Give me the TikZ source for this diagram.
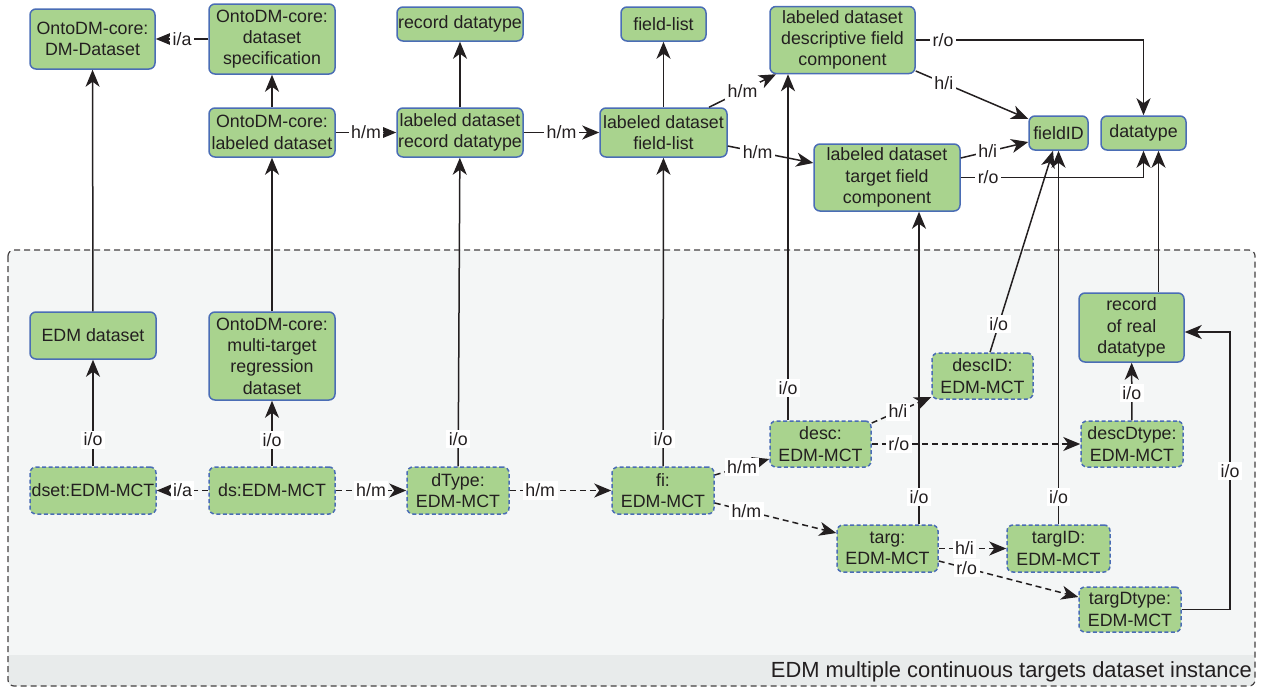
\documentclass[tikz,border=0pt]{standalone}
\usepackage{fontspec}
\setmainfont{Liberation Sans}
\usetikzlibrary{arrows.meta}
\definecolor{bgreen}{HTML}{A9D38E}
\definecolor{bblue}{HTML}{4A6DB5}
\definecolor{ink}{HTML}{231F20}
\definecolor{panel}{HTML}{F4F6F6}
\definecolor{band}{HTML}{E8EBEB}
\newcommand{\fs}{\fontsize{17.8}{21.3}\selectfont}
\begin{document}
\begin{tikzpicture}[x=1pt,y=-1pt,
 box/.style={draw=bblue, fill=bgreen, rounded corners=6pt, line width=1.5pt, align=center, inner sep=0pt, font=\fs, text=ink},
 dbox/.style={box, dash pattern=on 4pt off 2.5pt},
 lbl/.style={fill=white, inner sep=2.5pt, font=\fs, text=ink},
 arr/.style={-{Stealth[length=17pt,width=14pt,inset=5pt]}, line width=1.5pt, draw=ink},
 darr/.style={arr, dash pattern=on 6pt off 4pt},
]
\useasboundingbox (0,0) rectangle (1265,688);
% container
\fill[panel, rounded corners=6pt] (8,250) rectangle (1255,686);
\fill[band, rounded corners=6pt] (8,655) rectangle (1255,686);
\fill[band] (8.7,655) rectangle (1254.3,668);
\draw[ink!85, line width=1.2pt, dash pattern=on 6pt off 4pt, rounded corners=6pt] (8,250) rectangle (1255,686);
\node[anchor=east, inner sep=0pt, text=ink, font=\fontsize{21.9}{24}\selectfont] (title) at (1252,672) {EDM multiple continuous targets dataset instance};

% top nodes
\node[box, minimum width=125pt, minimum height=60pt] (DMD) at (92.5,39) {OntoDM-core:\\DM-Dataset};
\node[box, minimum width=126pt, minimum height=70pt] (dsspec) at (272,39) {OntoDM-core:\\dataset\\specification};
\node[box, minimum width=126pt, minimum height=34pt] (recdt) at (460,24) {record datatype};
\node[box, minimum width=85pt, minimum height=34pt] (fieldlist) at (663.5,24) {field-list};
\node[box, minimum width=145pt, minimum height=67pt] (ldesc) at (842.5,40) {labeled dataset\\descriptive field\\component};
\node[box, minimum width=126pt, minimum height=49pt] (ldlab) at (272,132.5) {OntoDM-core:\\labeled dataset};
\node[box, minimum width=126pt, minimum height=49pt] (ldrec) at (460,132.5) {labeled dataset\\record datatype};
\node[box, minimum width=127pt, minimum height=49pt] (ldfl) at (663.5,132.5) {labeled dataset\\field-list};
\node[box, minimum width=59pt, minimum height=34pt] (fieldID) at (1058.5,133) {fieldID};
\node[box, minimum width=85pt, minimum height=34pt] (datatype) at (1143.5,133) {datatype};
\node[box, minimum width=146pt, minimum height=67pt] (ltarg) at (887,177.5) {labeled dataset\\target field\\component};

% bottom nodes
\node[box, minimum width=126pt, minimum height=47pt] (EDMds) at (93,335.5) {EDM dataset};
\node[box, minimum width=126pt, minimum height=88pt] (mtr) at (272,356) {OntoDM-core:\\multi-target\\regression\\dataset};
\node[dbox, minimum width=126pt, minimum height=47pt] (dset) at (93,490.5) {dset:EDM-MCT};
\node[dbox, minimum width=126pt, minimum height=47pt] (ds) at (272,490.5) {ds:EDM-MCT};
\node[dbox, minimum width=102pt, minimum height=47pt] (dType) at (458,490.5) {dType:\\EDM-MCT};
\node[dbox, minimum width=102pt, minimum height=47pt] (fi) at (663,490.5) {fi:\\EDM-MCT};
\node[dbox, minimum width=101pt, minimum height=46pt] (desc) at (820.5,444) {desc:\\EDM-MCT};
\node[dbox, minimum width=101pt, minimum height=46pt] (descID) at (982.5,376) {descID:\\EDM-MCT};
\node[box, minimum width=105pt, minimum height=69pt] (recreal) at (1131.5,327.5) {record\\of real\\datatype};
\node[dbox, minimum width=102pt, minimum height=46pt] (descDtype) at (1132,444) {descDtype:\\EDM-MCT};
\node[dbox, minimum width=101pt, minimum height=47pt] (targ) at (887.5,548.5) {targ:\\EDM-MCT};
\node[dbox, minimum width=103pt, minimum height=47pt] (targID) at (1058.5,548.5) {targID:\\EDM-MCT};
\node[dbox, minimum width=102pt, minimum height=45pt] (targDtype) at (1130,609.5) {targDtype:\\EDM-MCT};

% top edges
\draw[arr] (dsspec) -- node[lbl]{i/a} (DMD);
\draw[arr] (ldlab) -- (dsspec);
\draw[arr] (ldlab) -- node[lbl]{h/m} (ldrec);
\draw[arr] (ldrec) -- (recdt);
\draw[arr] (ldrec) -- node[lbl]{h/m} (ldfl);
\draw[arr] (ldfl) -- (fieldlist);
\draw[arr] (709,0 |- ldfl.north) -- node[lbl]{h/m} (776,0 |- ldesc.south);
\draw[arr] (ldfl.east |- 0,146) -- node[lbl,pos=0.35]{h/m} (ltarg.west |- 0,163);
\draw[arr] (ldesc.east) -| node[lbl,pos=0.06]{r/o} (datatype.north);
\draw[arr] (ldesc.east |- 0,71) -- node[lbl,pos=0.25]{h/i} (fieldID.west |- 0,119);
\draw[arr] (ltarg.east |- 0,158) -- node[lbl,pos=0.4]{h/i} (fieldID.west |- 0,142);
\draw[arr] (ltarg.east) -| node[lbl,pos=0.075]{r/o} (datatype.south);

% vertical instance-of edges
\draw[arr] (EDMds) -- (DMD);
\draw[arr] (mtr) -- (ldlab);
\draw[arr] (dType) -- node[lbl,pos=0.087]{i/o} (ldrec);
\draw[arr] (fi) -- node[lbl,pos=0.087]{i/o} (ldfl);
\draw[arr] (788,0 |- desc.north) -- node[lbl,pos=0.092]{i/o} (788,0 |- ldesc.south);
\draw[arr] (919,0 |- targ.north) -- node[lbl,pos=0.086]{i/o} (919,0 |- ltarg.south);
\draw[arr] (990,0 |- descID.north) -- node[lbl,pos=0.138]{i/o} (1053,0 |- fieldID.south);
\draw[arr] (targID.north) -- node[lbl,pos=0.072]{i/o} (targID.north |- fieldID.south);
\draw[arr] (1158.5,0 |- recreal.north) -- (1158.5,0 |- datatype.south);
\draw[arr] (dset) -- node[lbl,pos=0.25]{i/o} (EDMds);
\draw[arr] (ds) -- node[lbl,pos=0.4]{i/o} (mtr);
\draw[arr] (descDtype) -- node[lbl,pos=0.47]{i/o} (recreal);
\draw[arr] (targDtype.east) -- (1230,0 |- targDtype.east) -- node[lbl,pos=0.5]{i/o} (1230,332) -- (recreal.east |- 0,332);

% dashed instance relations
\draw[darr] (ds) -- node[lbl]{i/a} (dset);
\draw[darr] (ds) -- node[lbl]{h/m} (dType);
\draw[darr] (dType) -- node[lbl,pos=0.3]{h/m} (fi);
\draw[darr] (fi.east |- 0,475) -- node[lbl,pos=0.5]{h/m} (desc.west |- 0,459);
\draw[darr] (fi.east |- 0,503) -- node[lbl,pos=0.26]{h/m} (targ.west |- 0,533);
\draw[darr] (desc.east |- 0,423) -- node[lbl,pos=0.44]{h/i} (descID.west |- 0,397);
\draw[darr] (desc.east) -- node[lbl,pos=0.13]{r/o} (descDtype.west);
\draw[darr] (targ) -- node[lbl,pos=0.38]{h/i} (targID);
\draw[darr] (targ.east |- 0,561) -- node[lbl,pos=0.2]{r/o} (targDtype.west |- 0,597);
\end{tikzpicture}
\end{document}
